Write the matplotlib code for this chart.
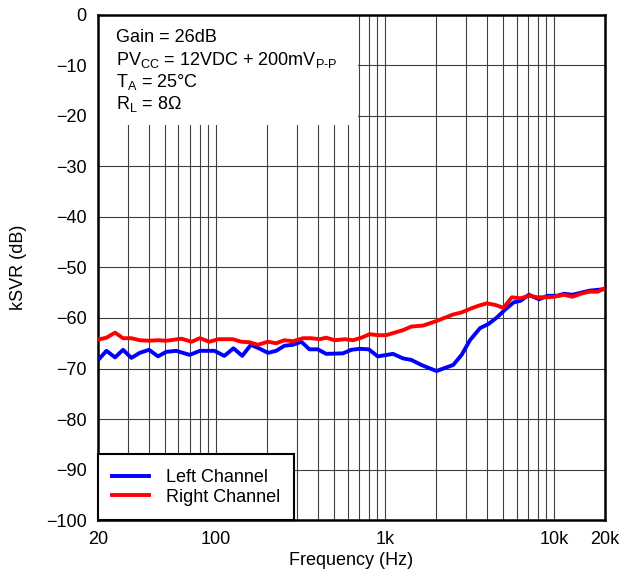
import numpy as np
import matplotlib.pyplot as plt
from matplotlib.ticker import FixedLocator, NullFormatter
from matplotlib.patches import Rectangle

plt.rcParams['font.family'] = ['Liberation Sans', 'DejaVu Sans']
plt.rcParams['mathtext.fontset'] = 'custom'
plt.rcParams['mathtext.rm'] = 'Liberation Sans'

# Left channel (Hz, dB)
freq_left = [20.5, 22.5, 25.3, 28.2, 31.6, 35.4, 40.2, 45.4, 50.8, 58.2, 70, 80.2, 98,
             112, 127, 143, 161, 182, 203, 227, 254, 285, 320, 357, 400, 449, 564, 632,
             708, 801, 906, 1115, 1278, 1431, 1642, 2016, 2530, 2840, 3180, 3650, 4090,
             4590, 5150, 5780, 6330, 7100, 8150, 9140, 10470, 11460, 12850, 14400, 16150,
             19700]
ksvr_left = [-68.0, -66.5, -67.8, -66.3, -67.9, -66.9, -66.3, -67.6, -66.7, -66.5, -67.3,
             -66.5, -66.5, -67.5, -66.0, -67.5, -65.3, -66.1, -66.9, -66.5, -65.5, -65.3,
             -64.7, -66.2, -66.2, -67.1, -67.0, -66.3, -66.1, -66.2, -67.6, -67.1, -68.0,
             -68.3, -69.3, -70.5, -69.3, -67.3, -64.4, -62.0, -61.2, -59.9, -58.3, -56.9,
             -56.6, -55.4, -56.3, -55.6, -55.6, -55.2, -55.4, -55.0, -54.6, -54.3]

# Right channel (Hz, dB)
freq_right = [20.5, 22.5, 25.3, 28.2, 31.6, 35.4, 40.2, 45.4, 50.8, 62.5, 71.8, 80.2, 91.5,
              103, 126, 141, 158, 177, 203, 227, 254, 285, 327, 366, 410, 449, 505, 578,
              647, 725, 811, 906, 1015, 1115, 1278, 1431, 1680, 2016, 2530, 2840, 3180,
              3560, 3990, 4480, 5020, 5630, 6330, 7100, 7960, 8920, 10000, 11460, 12850,
              14400, 16150, 18100, 19700]
ksvr_right = [-64.2, -63.9, -62.9, -64.0, -64.0, -64.4, -64.5, -64.4, -64.5, -64.1, -64.7,
              -64.0, -64.7, -64.2, -64.2, -64.7, -64.8, -65.3, -64.7, -65.0, -64.4, -64.6,
              -64.0, -64.0, -64.2, -63.9, -64.4, -64.2, -64.4, -63.9, -63.2, -63.4, -63.4,
              -63.0, -62.4, -61.7, -61.5, -60.6, -59.3, -58.9, -58.2, -57.6, -57.1, -57.4,
              -58.0, -55.9, -56.1, -55.6, -55.9, -55.9, -55.8, -55.4, -55.8, -55.2, -54.8,
              -54.8, -54.2]

x_ticks = [20, 100, 1000, 10000, 20000]
x_labels = ['20', '100', '1k', '10k', '20k']
y_ticks = list(range(-100, 1, 10))

fs = 13

fig = plt.figure(figsize=(6.23, 5.74), dpi=100)
ax = fig.add_axes([0.157, 0.094, 0.814, 0.880])

ax.plot(freq_left, ksvr_left, color='#0000ff', lw=2.8, label='Left Channel', zorder=3)
ax.plot(freq_right, ksvr_right, color='#ff0000', lw=2.8, label='Right Channel', zorder=3)

ax.set_xscale('log')
ax.set_xlim(20, 20000)
ax.set_ylim(-100, 0)
ax.xaxis.set_major_locator(FixedLocator(x_ticks))
ax.set_xticklabels(x_labels)
minors = [m * 10 ** d for d in range(1, 5) for m in range(2, 10) if 20 <= m * 10 ** d <= 20000]
ax.xaxis.set_minor_locator(FixedLocator(minors))
ax.xaxis.set_minor_formatter(NullFormatter())
ax.set_yticks(y_ticks)
ax.set_yticklabels([str(v).replace('-', '\u2212') for v in y_ticks])

ax.grid(True, which='both', axis='x', color='#404040', lw=0.8)
ax.grid(True, which='major', axis='y', color='#404040', lw=0.8)
ax.set_axisbelow(True)
ax.tick_params(which='both', length=0, labelsize=fs)
ax.tick_params(axis='y', pad=8)
ax.tick_params(axis='x', pad=8)

for s in ax.spines.values():
    s.set_linewidth(1.8)

ax.set_xlabel('Frequency (Hz)', fontsize=fs, labelpad=3)
ax.set_ylabel('kSVR (dB)', fontsize=fs, labelpad=14)

# white box behind the conditions text
ax.add_patch(Rectangle((0, 0.782), 0.513, 0.218, transform=ax.transAxes,
                       facecolor='white', edgecolor='none', zorder=2))
info = ['Gain = 26dB',
        r'PV$_{\mathregular{CC}}$ = 12VDC + 200mV$_{\mathregular{P\text{-}P}}$',
        r'T$_{\mathregular{A}}$ = 25°C',
        r'R$_{\mathregular{L}}$ = 8Ω']
for i, t in enumerate(info):
    ax.text(0.036, 0.955 - i * 0.0435, t, transform=ax.transAxes, fontsize=fs,
            va='center', ha='left', zorder=4)

leg = ax.legend(loc='lower left', borderaxespad=0, fancybox=False, fontsize=fs,
                handlelength=2.05, handletextpad=0.9, borderpad=0.8, labelspacing=0.15)
leg.get_frame().set_edgecolor('black')
leg.get_frame().set_linewidth(1.5)
leg.get_frame().set_alpha(1)

fig.savefig('out.png', dpi=100)
